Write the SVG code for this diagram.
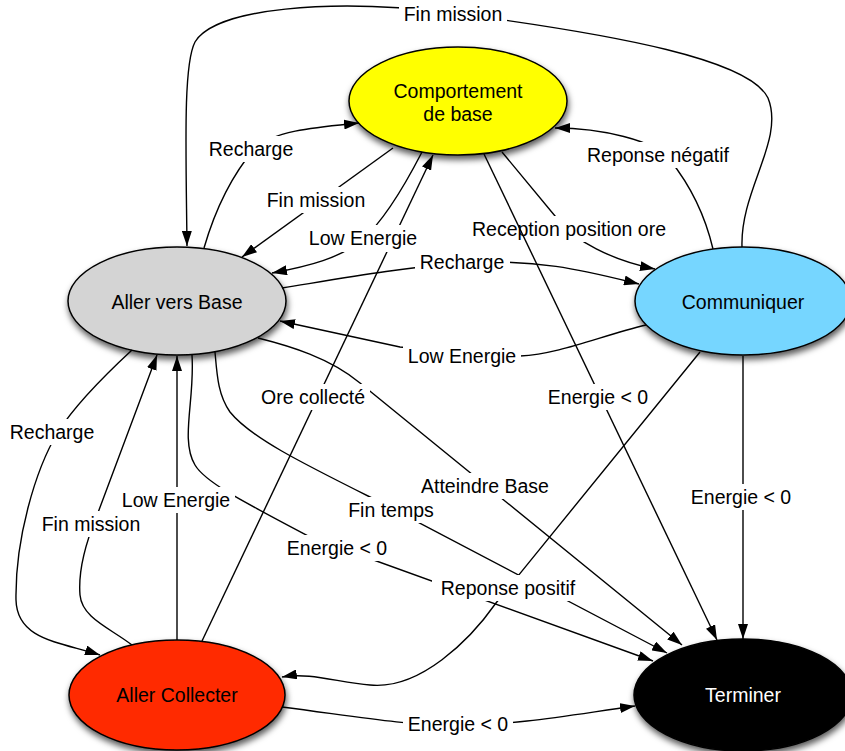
<svg xmlns="http://www.w3.org/2000/svg" width="845" height="751" viewBox="0 0 845 751">
<style>
.n{stroke:#000;stroke-width:1.5}
.t{font-family:"Liberation Sans",Arial,Helvetica,sans-serif;font-size:19.5px;text-anchor:middle;fill:#000}
.e{fill:none;stroke:#000;stroke-width:1.4;marker-end:url(#ah)}
.lb{fill:#fff}
</style>
<defs>
<marker id="ah" viewBox="0 0 15 10" refX="15" refY="5" markerWidth="15" markerHeight="10" markerUnits="userSpaceOnUse" orient="auto"><path d="M0,0 L15,5 L0,10 z" fill="#000"/></marker>
<filter id="sh" x="-20%" y="-20%" width="140%" height="150%"><feDropShadow dx="1" dy="4" stdDeviation="3" flood-color="#000" flood-opacity="0.65"/></filter>
</defs>
<rect width="845" height="751" fill="#fff"/>
<g id="comportement"><ellipse class="n" cx="458" cy="101" rx="109" ry="54" fill="#ffff00" filter="url(#sh)"/><text class="t" x="458" y="98">Comportement</text><text class="t" x="458" y="121">de base</text></g>
<g id="aller-vers-base"><ellipse class="n" cx="177" cy="301" rx="109" ry="54" fill="#d4d4d4" filter="url(#sh)"/><text class="t" x="177" y="309">Aller vers Base</text></g>
<g id="communiquer"><ellipse class="n" cx="743" cy="301" rx="108" ry="54" fill="#76d6ff" filter="url(#sh)"/><text class="t" x="743" y="309">Communiquer</text></g>
<g id="aller-collecter"><ellipse class="n" cx="177" cy="695" rx="108" ry="55" fill="#ff2a00" filter="url(#sh)"/><text class="t" x="177" y="702">Aller Collecter</text></g>
<g id="terminer"><ellipse class="n" cx="743" cy="695" rx="109" ry="56" fill="#000" filter="url(#sh)"/><text class="t" x="743" y="702" style="fill:#fff">Terminer</text></g>
<g id="connectors">
<g><path class="e" d="M258,338 C290,346 330,358 360,383 L682,645"/><rect class="lb" x="416" y="473" width="138" height="26"/><text class="t" x="485" y="493">Atteindre Base</text></g>
<g><path class="e" d="M202,641 L433,155"/><rect class="lb" x="256" y="384" width="114" height="26"/><text class="t" x="313" y="404">Ore collecté</text></g>
<g><path class="e" d="M192,355 C195,400 180,440 195,465 C205,482 240,500 310,537 L653,661"/><rect class="lb" x="282" y="535" width="110" height="26"/><text class="t" x="337" y="555">Energie &lt; 0</text></g>
<g><path class="e" d="M215,352 C217,375 218,395 230,412 C250,437 300,462 370,497 L667,653"/><rect class="lb" x="343" y="497" width="96" height="26"/><text class="t" x="391" y="517">Fin temps</text></g>
<g><path class="e" d="M502,152 L560,222 C575,240 610,260 655,269"/><rect class="lb" x="467" y="216" width="204" height="26"/><text class="t" x="569" y="236">Reception position ore</text></g>
<g><path class="e" d="M484,154 L717,640"/><rect class="lb" x="543" y="384" width="110" height="26"/><text class="t" x="598" y="404">Energie &lt; 0</text></g>
<g><path class="e" d="M422,152 C405,185 385,220 362,240 C340,258 310,266 272,273"/><rect class="lb" x="304" y="225" width="118" height="27"/><text class="t" x="363" y="245">Low Energie</text></g>
<g><path class="e" d="M177,640 L177,356"/><rect class="lb" x="117" y="487" width="118" height="26"/><text class="t" x="176" y="507">Low Energie</text></g>
<g><path class="e" d="M700,352 L496,603 C470,640 420,690 370,685 C340,683 310,672 282,677"/><rect class="lb" x="432" y="575" width="152" height="26"/><text class="t" x="508" y="595">Reponse positif</text></g>
<g><path class="e" d="M742,247 C740,190 785,140 768,98 C750,60 620,35 453,13 C330,-2 215,8 195,42 C183,65 186,150 187,246"/><rect class="lb" x="399" y="1" width="108" height="26"/><text class="t" x="453" y="21">Fin mission</text></g>
<g><path class="e" d="M204,248 C215,210 232,175 255,148 C275,130 320,127 359,123"/><rect class="lb" x="204" y="136" width="94" height="26"/><text class="t" x="251" y="156">Recharge</text></g>
<g><path class="e" d="M393,148 L242,257"/><rect class="lb" x="262" y="187" width="108" height="26"/><text class="t" x="316" y="207">Fin mission</text></g>
<g><path class="e" d="M282,288 C350,277 400,268 462,263 C540,258 590,272 639,284"/><rect class="lb" x="415" y="249" width="95" height="26"/><text class="t" x="462" y="269">Recharge</text></g>
<g><path class="e" d="M646,325 C600,336 560,354 520,356 C480,358 440,352 400,347 L280,321"/><rect class="lb" x="403" y="343" width="118" height="26"/><text class="t" x="462" y="363">Low Energie</text></g>
<g><path class="e" d="M713,249 C705,215 690,185 670,160 C655,140 600,128 555,128"/><rect class="lb" x="582" y="142" width="152" height="26"/><text class="t" x="658" y="162">Reponse négatif</text></g>
<g><path class="e" d="M743,356 L743,639"/><rect class="lb" x="688" y="484" width="110" height="26"/><text class="t" x="741" y="504">Energie &lt; 0</text></g>
<g><path class="e" d="M282,707 C360,717 400,725 458,725 C520,725 570,715 635,706"/><rect class="lb" x="403" y="711" width="110" height="26"/><text class="t" x="458" y="731">Energie &lt; 0</text></g>
<g><path class="e" d="M132,350 C105,375 75,405 58,432 C35,470 15,540 16,600 C17,640 60,642 100,655"/><rect class="lb" x="5" y="419" width="94" height="26"/><text class="t" x="52" y="439">Recharge</text></g>
<g><path class="e" d="M132,645 C110,628 82,618 80,595 C78,570 85,545 96,518 L157,355"/><rect class="lb" x="37" y="511" width="108" height="26"/><text class="t" x="91" y="531">Fin mission</text></g>
</g>
</svg>
